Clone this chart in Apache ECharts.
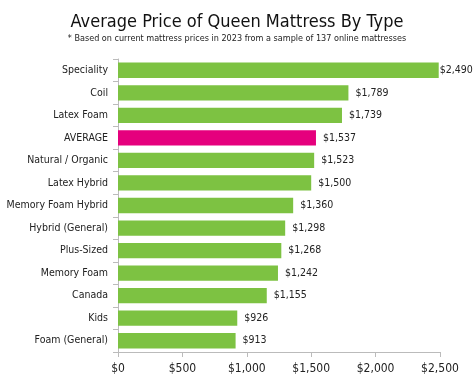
<!DOCTYPE html>
<html><head><meta charset="utf-8">
<script src="https://cdn.jsdelivr.net/npm/echarts@6/dist/echarts.min.js"></script>
<style>html,body{margin:0;padding:0;background:#fff}#c{width:474px;height:384px}</style>
</head><body><div id="c"></div>
<script>
const categories = ["Speciality","Coil","Latex Foam","AVERAGE","Natural / Organic","Latex Hybrid","Memory Foam Hybrid","Hybrid (General)","Plus-Sized","Memory Foam","Canada","Kids","Foam (General)"];
const prices = [2490,1789,1739,1537,1523,1500,1360,1298,1268,1242,1155,926,913];
const highlight = "AVERAGE";
const tickValues = [0,500,1000,1500,2000,2500];
const fmt = v => "$" + v.toLocaleString("en-US");
const chart = echarts.init(document.getElementById('c'), null, {renderer:'canvas'});
const font = "DejaVu Sans Condensed";
chart.setOption({
  animation:false,
  textStyle:{fontFamily:font},
  title:{text:"Average Price of Queen Mattress By Type",subtext:"* Based on current mattress prices in 2023 from a sample of 137 online mattresses",
    left:'center',top:8,itemGap:3,
    textStyle:{fontFamily:font,fontSize:18,fontWeight:'normal',color:'#111'},
    subtextStyle:{fontFamily:font,fontSize:9,color:'#222'}},
  grid:{left:118,right:34,top:59,bottom:32,containLabel:false,outerBoundsMode:'none'},
  xAxis:{type:'value',min:0,max:2500,interval:500,
    axisLine:{show:true,lineStyle:{color:'#bbb'}},
    axisTick:{show:true,length:5,lineStyle:{color:'#bbb'}},
    splitLine:{show:false},
    axisLabel:{formatter:v=>fmt(v),fontFamily:font,fontSize:12,color:'#222',margin:11}},
  yAxis:{type:'category',data:categories,inverse:true,
    axisLine:{show:true,lineStyle:{color:'#bbb'}},
    axisTick:{show:true,length:5,lineStyle:{color:'#bbb'}},
    axisLabel:{fontFamily:font,fontSize:10.5,color:'#222',margin:10}},
  series:[{type:'bar',barCategoryGap:'32%',
    data:prices.map((v,i)=>({value:v,
      itemStyle:{color:categories[i]===highlight?'#E5007D':'#7DC242'},
      label:{distance:v>2300?1:7}})),
    label:{show:true,position:'right',formatter:p=>fmt(p.value),fontFamily:font,fontSize:10.5,color:'#222'}}]
});
</script></body></html>
